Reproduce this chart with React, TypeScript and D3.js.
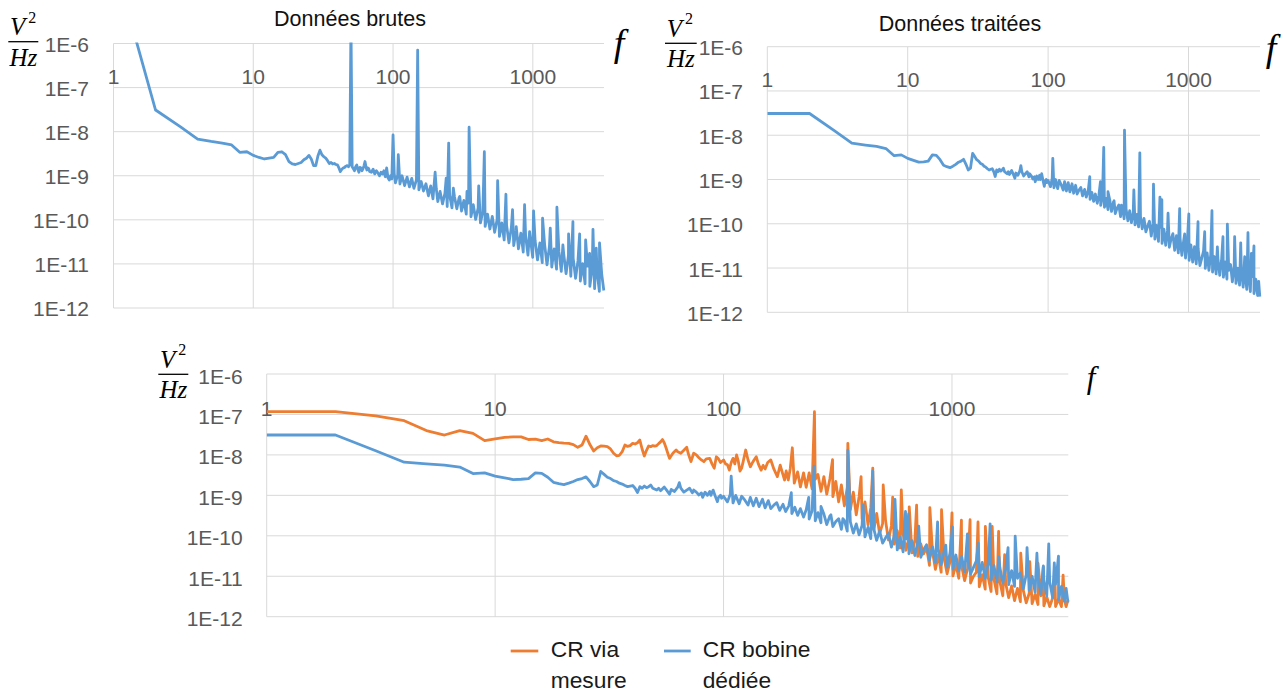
import React from 'react';
import * as d3 from 'd3';

type Pt = [number, number];

const BLUE = '#5b9bd5';
const ORANGE = '#ed7d31';

const yTickValues = [1e-6, 1e-7, 1e-8, 1e-9, 1e-10, 1e-11, 1e-12];
const yTickLabels = ['1E-6', '1E-7', '1E-8', '1E-9', '1E-10', '1E-11', '1E-12'];
const xTickValues = [1, 10, 100, 1000];
const xTickLabels = ['1', '10', '100', '1000'];
const freqDomain: [number, number] = [1, 3230];
const psdDomain: [number, number] = [1e-6, 1e-12];

const titles = ['Données brutes', 'Données traitées'];
const legendLabels = [['CR via', 'mesure'], ['CR bobine', 'dédiée']];

// ---------- Raw data (top-left) ----------
const rawLow: Pt[] = [
  [1, 8e-5], [2, 3.1e-8], [3, 1.3e-8], [4, 6.8e-9], [5, 6.0e-9], [6, 5.5e-9], [7, 5.0e-9], [8, 3.4e-9],
  [9, 3.5e-9], [10, 2.9e-9], [11, 2.6e-9], [12, 2.4e-9], [13, 2.5e-9], [14, 2.6e-9], [15, 3.4e-9],
  [16, 3.5e-9], [17, 3.0e-9], [18, 2.1e-9], [19, 1.85e-9], [20, 1.8e-9], [21, 1.9e-9], [22, 2.0e-9],
  [23, 2.3e-9], [24, 2.5e-9], [25, 2.9e-9], [26, 2.4e-9], [27, 1.7e-9], [28, 1.7e-9], [29, 2.8e-9],
  [30, 3.8e-9], [31, 3.0e-9], [32, 2.7e-9], [33, 2.5e-9], [34, 2.2e-9], [35, 1.9e-9], [36, 2.0e-9],
  [37, 1.85e-9], [38, 1.9e-9], [39, 1.8e-9], [40, 1.76e-9], [41, 1.5e-9], [42, 1.24e-9], [43, 1.4e-9],
  [44, 1.5e-9], [45, 1.55e-9], [46, 1.65e-9], [47, 1.7e-9], [48, 1.6e-9], [49, 1.75e-9], [51, 1.6e-9],
  [52, 1.45e-9], [53, 1.3e-9], [54, 1.6e-9], [55, 1.75e-9], [56, 1.4e-9], [57, 1.2e-9], [58, 1.55e-9],
  [59, 1.5e-9], [60, 1.3e-9], [61, 1.45e-9], [62, 1.7e-9], [63, 2.1e-9], [64, 1.6e-9], [65, 1.35e-9],
  [66, 1.5e-9], [67, 1.45e-9], [68, 1.25e-9], [70, 1.2e-9], [72, 1.4e-9], [74, 1.1e-9], [76, 1.3e-9],
  [78, 1.15e-9], [80, 1.0e-9], [82, 1.2e-9], [84, 1.1e-9], [86, 1.3e-9], [88, 0.95e-9], [90, 1.5e-9],
  [92, 0.9e-9], [94, 0.8e-9], [96, 1.0e-9], [98, 0.85e-9], [102, 1.12e-9],
];
const rawNoise: Pt[] = [
  [104, 6.9e-10], [108, 1.05e-9], [112, 6.5e-10], [116, 1.0e-9], [121, 6.0e-10], [126, 9.3e-10],
  [131, 5.6e-10], [136, 8.7e-10], [141, 5.2e-10], [147, 8.1e-10], [153, 4.8e-10], [159, 7.4e-10],
  [165, 4.5e-10], [172, 6.6e-10], [179, 3.5e-10], [186, 5.9e-10], [193, 3.0e-10], [204, 5.0e-10],
  [209, 2.6e-10], [217, 4.4e-10], [226, 2.3e-10], [235, 4.0e-10], [244, 2.0e-10], [254, 3.6e-10],
  [264, 1.86e-10], [275, 3.4e-10], [286, 1.78e-10], [297, 3.2e-10], [309, 1.58e-10], [321, 2.75e-10],
  [334, 1.35e-10], [347, 2.4e-10], [361, 1.17e-10], [375, 2.2e-10], [390, 1.02e-10], [406, 1.86e-10],
  [422, 8.5e-11], [439, 1.55e-10], [456, 7.1e-11], [474, 1.35e-10], [493, 6.2e-11], [513, 1.2e-10],
  [533, 5.2e-11], [555, 1.0e-10], [577, 4.2e-11], [600, 8.5e-11], [624, 3.5e-11], [649, 7.6e-11],
  [675, 3.0e-11], [702, 6.6e-11], [730, 2.6e-11], [759, 5.75e-11], [789, 2.2e-11], [821, 5.0e-11],
  [854, 1.86e-11], [888, 4.3e-11], [923, 1.58e-11], [960, 3.8e-11], [998, 1.41e-11], [1038, 3.4e-11],
  [1080, 1.23e-11], [1123, 3.0e-11], [1168, 1.07e-11], [1215, 2.75e-11], [1263, 9.5e-12],
  [1314, 2.45e-11], [1366, 8.5e-12], [1421, 2.2e-11], [1478, 7.6e-12], [1537, 1.9e-11], [1598, 6.8e-12],
  [1662, 1.74e-11], [1729, 6.0e-12], [1798, 1.55e-11], [1870, 5.25e-12], [1944, 1.35e-11],
  [2022, 4.7e-12], [2103, 1.17e-11], [2187, 4.1e-12], [2274, 1.02e-11], [2365, 3.55e-12],
  [2460, 8.9e-12], [2558, 3.1e-12], [2661, 7.8e-12], [2767, 2.75e-12], [2878, 6.8e-12], [2993, 2.4e-12],
  [3113, 5.75e-12], [3220, 2.5e-12],
];
const rawPeaks: Pt[] = [
  [50, 3e-6], [100, 8.4e-9], [109, 3.0e-9], [150, 7.1e-7], [200, 1.2e-9], [240, 8.8e-10], [250, 5.5e-9],
  [270, 5.2e-10], [300, 3.4e-10], [338, 4.4e-10], [350, 1.26e-8], [410, 5.9e-10], [450, 3.5e-9],
  [560, 7.7e-10], [642, 3.8e-10], [716, 1.7e-10], [761, 7e-11], [873, 2.2e-10], [948, 5.4e-11],
  [1012, 1.6e-10], [1174, 1.09e-10], [1333, 6.5e-11], [1487, 1.93e-10], [1641, 2.7e-11],
  [1802, 4.8e-11], [1936, 9.1e-11], [2162, 4.8e-11], [2386, 3.5e-11], [2549, 1.74e-11],
  [2694, 6.1e-11], [2843, 2.27e-11], [3000, 3.0e-11],
];

// ---------- CR bobine dédiée (top-right, bottom blue) ----------
const dedLow: Pt[] = [
  [1, 3.1e-8], [2, 3.1e-8], [3, 1.27e-8], [4, 6.6e-9], [5, 6.0e-9], [6, 5.6e-9], [7, 5.0e-9],
  [8, 3.45e-9], [9, 3.6e-9], [10, 3.0e-9], [11, 2.7e-9], [12, 2.46e-9], [13, 2.5e-9], [14, 2.6e-9],
  [15, 3.6e-9], [16, 3.5e-9], [17, 2.8e-9], [18, 2.1e-9], [19, 1.95e-9], [20, 1.85e-9], [21, 2.0e-9],
  [22, 2.2e-9], [23, 2.46e-9], [24, 2.6e-9], [25, 2.86e-9], [26, 2.2e-9], [27, 1.64e-9], [28, 1.8e-9],
  [29, 3.9e-9], [30, 3.3e-9], [31, 2.8e-9], [32, 2.6e-9], [33, 2.3e-9], [34, 2.2e-9], [35, 2.0e-9],
  [36, 1.9e-9], [37, 1.75e-9], [38, 1.64e-9], [39, 1.7e-9], [40, 1.75e-9], [41, 1.5e-9], [42, 1.17e-9],
  [43, 1.64e-9], [44, 1.5e-9], [45, 1.7e-9], [46, 1.55e-9], [47, 1.64e-9], [48, 1.8e-9], [49, 1.5e-9],
  [51, 1.35e-9], [52, 1.5e-9], [53, 1.3e-9], [55, 1.6e-9], [56, 1.4e-9], [58, 1.07e-9], [59, 1.4e-9],
  [61, 1.25e-9], [63, 1.6e-9], [64, 2.06e-9], [65, 1.5e-9], [67, 1.2e-9], [69, 1.35e-9], [71, 1.5e-9],
  [73, 1.15e-9], [74, 1.35e-9], [76, 1.2e-9], [78, 1.02e-9], [80, 1.15e-9], [81, 0.89e-9],
  [83, 1.2e-9], [85, 1.0e-9], [87, 1.25e-9], [88, 1.0e-9], [90, 1.35e-9], [92, 0.95e-9], [94, 0.7e-9],
  [95, 0.89e-9], [97, 1.0e-9], [98, 0.85e-9], [100, 0.95e-9],
];
const dedNoise: Pt[] = [
  [104, 6.9e-10], [107, 1.07e-9], [110, 6.5e-10], [113, 1.0e-9], [117, 6.2e-10], [120, 9.5e-10],
  [124, 7.6e-10], [128, 5.75e-10], [131, 8.9e-10], [135, 5.5e-10], [139, 8.5e-10], [143, 5.25e-10],
  [148, 8.0e-10], [152, 4.9e-10], [157, 7.4e-10], [161, 4.7e-10], [166, 5.75e-10], [171, 6.6e-10],
  [176, 4.25e-10], [182, 6.0e-10], [187, 4.0e-10], [193, 5.5e-10], [199, 3.55e-10], [205, 5.1e-10],
  [211, 3.2e-10], [217, 4.7e-10], [224, 2.9e-10], [230, 4.4e-10], [237, 2.6e-10], [244, 4.1e-10],
  [252, 2.35e-10], [259, 3.75e-10], [267, 2.1e-10], [275, 3.45e-10], [283, 1.9e-10], [292, 3.1e-10],
  [301, 1.7e-10], [310, 2.25e-10], [319, 2.65e-10], [328, 1.45e-10], [338, 2.4e-10], [348, 1.3e-10],
  [359, 2.2e-10], [370, 1.17e-10], [381, 1.97e-10], [392, 1.06e-10], [404, 1.8e-10], [416, 9.4e-11],
  [429, 1.62e-10], [441, 8.5e-11], [455, 1.46e-10], [468, 7.7e-11], [482, 1.32e-10], [497, 6.6e-11],
  [512, 8.9e-11], [527, 1.14e-10], [543, 5.25e-11], [559, 1.02e-10], [576, 4.5e-11], [593, 9.2e-11],
  [611, 4.0e-11], [629, 8.3e-11], [648, 3.6e-11], [668, 7.6e-11], [688, 3.25e-11], [708, 6.9e-11],
  [730, 2.95e-11], [751, 4.5e-11], [774, 6.0e-11], [797, 2.5e-11], [821, 5.4e-11], [846, 2.2e-11],
  [871, 4.7e-11], [897, 1.93e-11], [924, 4.2e-11], [952, 1.68e-11], [980, 3.7e-11], [1010, 1.5e-11],
  [1040, 3.35e-11], [1071, 1.36e-11], [1103, 3.05e-11], [1136, 1.25e-11], [1171, 2.8e-11],
  [1206, 1.14e-11], [1242, 1.66e-11], [1279, 2.4e-11], [1317, 9.8e-12], [1357, 2.2e-11],
  [1398, 8.9e-12], [1440, 2.0e-11], [1483, 8.1e-12], [1527, 1.82e-11], [1573, 7.4e-12],
  [1620, 1.66e-11], [1669, 6.8e-12], [1719, 1.5e-11], [1771, 6.2e-12], [1824, 1.38e-11],
  [1879, 5.6e-12], [1935, 8.9e-12], [1993, 1.2e-11], [2053, 4.9e-12], [2114, 1.1e-11], [2178, 4.5e-12],
  [2243, 1.0e-11], [2310, 4.1e-12], [2380, 9.0e-12], [2451, 3.7e-12], [2525, 8.1e-12], [2600, 3.3e-12],
  [2678, 7.2e-12], [2759, 2.95e-12], [2841, 6.4e-12], [2927, 2.65e-12], [3014, 5.6e-12],
  [3105, 2.4e-12], [3160, 5.0e-12], [3220, 2.25e-12],
];
const dedPeaks: Pt[] = [
  [108, 3.0e-9], [198, 1.16e-9], [236, 8.9e-10], [249, 5.3e-9], [267, 5.3e-10], [295, 3.3e-10],
  [333, 2.65e-10], [350, 1.3e-8], [408, 5.8e-10], [450, 4.0e-9], [563, 7.9e-10], [626, 4.0e-10],
  [646, 3.5e-10], [715, 1.73e-10], [865, 2.2e-10], [939, 5.9e-11], [1005, 1.66e-10], [1169, 1.11e-10],
  [1304, 6.6e-11], [1469, 1.97e-10], [1605, 3.0e-11], [1760, 5.1e-11], [1891, 9.8e-11],
  [2131, 5.1e-11], [2354, 3.7e-11], [2513, 1.8e-11], [2652, 6.3e-11], [2805, 2.15e-11],
  [2926, 3.16e-11],
];

// ---------- CR via mesure (bottom orange) ----------
const mesLow: Pt[] = [
  [1, 1.17e-7], [2, 1.17e-7], [3, 9.2e-8], [4, 7.0e-8], [5, 4.0e-8], [6, 3.1e-8], [7, 4.0e-8],
  [8, 3.4e-8], [9, 2.25e-8], [10, 2.5e-8], [11, 2.7e-8], [12, 2.8e-8], [13, 2.8e-8], [14, 2.4e-8],
  [15, 2.45e-8], [16, 2.25e-8], [17, 2.47e-8], [18, 2.1e-8], [19, 2.0e-8], [20, 1.95e-8], [21, 1.93e-8],
  [22, 1.8e-8], [23, 1.54e-8], [24, 1.75e-8], [25, 2.9e-8], [26, 1.8e-8], [27, 1.25e-8], [28, 1.5e-8],
  [29, 1.66e-8], [30, 1.65e-8], [31, 1.6e-8], [32, 1.4e-8], [33, 1.1e-8], [34, 9.5e-9], [35, 9.8e-9],
  [36, 1.2e-8], [37, 1.76e-8], [38, 1.62e-8], [39, 1.7e-8], [40, 1.93e-8], [41, 1.86e-8], [42, 2.0e-8],
  [43, 2.33e-8], [44, 1.4e-8], [45, 9.4e-9], [46, 1.3e-8], [47, 1.66e-8], [48, 1.6e-8], [49, 1.7e-8],
  [50, 1.65e-8], [51, 1.7e-8], [52, 1.9e-8], [53, 2.1e-8], [54, 2.4e-8], [55, 2.0e-8], [56, 1.5e-8],
  [57, 1.1e-8], [58, 8.2e-9], [59, 9.5e-9], [60, 1.1e-8], [62, 1.32e-8], [63, 1.2e-8], [65, 1.1e-8],
  [67, 1.3e-8], [69, 1.54e-8], [70, 1.1e-8], [72, 6.8e-9], [74, 1.1e-8], [76, 1.0e-8], [78, 8.5e-9],
  [80, 7.5e-9], [82, 6.8e-9], [84, 8.0e-9], [87, 8.2e-9], [89, 6.0e-9], [91, 4.7e-9], [93, 9.0e-9],
  [95, 8.0e-9], [97, 6.5e-9], [100, 7.5e-9], [102, 6.0e-9], [104, 5.7e-9], [106, 4.2e-9], [108, 6.5e-9],
  [110, 8.2e-9], [112, 6.0e-9], [114, 1.0e-8], [116, 7.0e-9], [118, 4.0e-9], [120, 4.7e-9],
  [122, 7.0e-9], [125, 1.32e-8], [128, 7.5e-9], [131, 5.1e-9], [134, 6.5e-9], [136, 7.5e-9],
  [139, 9.0e-9], [142, 6.0e-9], [146, 4.2e-9], [149, 5.5e-9], [152, 4.5e-9], [156, 6.5e-9],
  [161, 7.5e-9], [166, 4.5e-9], [172, 2.9e-9], [177, 5.6e-9], [181, 3.6e-9], [185, 2.4e-9],
  [188, 4.0e-9], [192, 2.4e-9], [196, 4.7e-9], [204, 2.0e-9],
];
const mesNoise: Pt[] = [
  [211, 3.8e-9], [217, 1.62e-9], [224, 3.6e-9], [230, 1.58e-9], [237, 3.6e-9], [244, 1.45e-9],
  [252, 2.5e-9], [259, 3.3e-9], [267, 1.26e-9], [275, 2.9e-9], [283, 1.07e-9], [292, 2.55e-9],
  [301, 9.3e-10], [310, 2.2e-9], [319, 6.9e-10], [328, 1.82e-9], [338, 5.5e-10], [348, 1.58e-9],
  [359, 4.4e-10], [370, 1.2e-9], [381, 3.3e-10], [392, 9.3e-10], [404, 2.6e-10], [416, 6.9e-10],
  [429, 1.86e-10], [441, 4.9e-10], [455, 1.41e-10], [468, 3.6e-10], [482, 1.12e-10], [497, 2.0e-10],
  [512, 2.35e-10], [527, 7.9e-11], [543, 1.78e-10], [559, 6.2e-11], [576, 1.35e-10], [593, 5.0e-11],
  [611, 1.12e-10], [629, 4.4e-11], [648, 8.9e-11], [668, 3.8e-11], [688, 7.6e-11], [708, 3.1e-11],
  [730, 6.3e-11], [751, 3.55e-11], [774, 5.1e-11], [797, 1.86e-11], [821, 4.2e-11], [846, 1.48e-11],
  [871, 3.4e-11], [897, 1.26e-11], [924, 2.75e-11], [952, 1.15e-11], [980, 2.3e-11], [1010, 1.02e-11],
  [1040, 2.0e-11], [1071, 8.9e-12], [1103, 1.74e-11], [1136, 7.8e-12], [1171, 1.58e-11],
  [1206, 6.8e-12], [1242, 1.0e-11], [1279, 1.26e-11], [1317, 5.5e-12], [1357, 1.1e-11],
  [1398, 4.8e-12], [1440, 9.5e-12], [1483, 4.2e-12], [1527, 8.5e-12], [1573, 3.7e-12],
  [1620, 7.4e-12], [1669, 3.3e-12], [1719, 6.6e-12], [1771, 2.95e-12], [1824, 5.75e-12],
  [1879, 2.5e-12], [1935, 5.0e-12], [1993, 2.35e-12], [2053, 4.4e-12], [2114, 2.2e-12],
  [2178, 3.8e-12], [2243, 2.1e-12], [2310, 3.55e-12], [2380, 2.0e-12], [2451, 3.3e-12],
  [2525, 1.86e-12], [2600, 3.1e-12], [2678, 1.78e-12], [2759, 2.9e-12], [2841, 1.78e-12],
  [2927, 2.75e-12], [3014, 1.78e-12], [3105, 2.6e-12], [3160, 1.78e-12], [3220, 2.6e-12],
];
const mesPeaks: Pt[] = [
  [200, 1.5e-8], [250, 1.17e-7], [300, 7.6e-9], [350, 1.93e-8], [400, 2.9e-9], [450, 4.7e-9],
  [500, 1.8e-9], [550, 9e-10], [600, 1.36e-9], [650, 5.2e-10], [700, 5.7e-10], [800, 5.0e-10],
  [900, 4.4e-10], [1000, 3.7e-10], [1100, 2.45e-10], [1200, 2.5e-10], [1300, 2.2e-10],
  [1400, 1.7e-10], [1500, 1.7e-10], [1600, 1.28e-10], [1700, 3.4e-11], [2000, 3.7e-11],
  [2190, 2.3e-11], [2380, 2.1e-11], [2510, 1.7e-11], [2820, 1.3e-11], [3065, 1.07e-11],
];

const merge = (...parts: Pt[][]): Pt[] => parts.flat().sort((a, b) => a[0] - b[0]);

const rawSeries = merge(rawLow, rawNoise, rawPeaks);
const dedSeries = merge(dedLow, dedNoise, dedPeaks);
const mesSeries = merge(mesLow, mesNoise, mesPeaks);

type Box = { l: number; r: number; t: number; b: number };
type ChartProps = {
  id: string;
  box: Box;
  series: { data: Pt[]; color: string }[];
  yLabRight: number;
  yLabDy: number;
  xLabDy: number;
  frac: { x0: number; x1: number; y: number };
  f: { x: number; y: number; size: number };
  title?: { text: string; x: number; y: number };
};

const TICK_FONT = '"Liberation Sans", Arial, sans-serif';
const MATH_FONT = '"Liberation Serif", "Times New Roman", serif';

function Chart({ id, box, series, yLabRight, yLabDy, xLabDy, frac, f, title }: ChartProps) {
  const x = d3.scaleLog().domain(freqDomain).range([box.l, box.r]);
  const y = d3.scaleLog().domain(psdDomain).range([box.t, box.b]);
  const line = d3
    .line<Pt>()
    .x((d) => x(d[0]))
    .y((d) => y(d[1]));
  const cx = (frac.x0 + frac.x1) / 2;
  return (
    <g>
      <defs>
        <clipPath id={`clip-${id}`}>
          <rect x={box.l} y={box.t - 1} width={box.r - box.l + 2} height={box.b - box.t + 2} />
        </clipPath>
      </defs>
      {title && (
        <text x={title.x} y={title.y} textAnchor="middle" fontFamily={TICK_FONT} fontSize={21.5} fill="#111">
          {title.text}
        </text>
      )}
      {yTickValues.map((v) => (
        <line key={`gy${v}`} x1={box.l} x2={box.r} y1={y(v)} y2={y(v)} stroke="#d9d9d9" strokeWidth={1} />
      ))}
      {xTickValues.map((v) => (
        <line key={`gx${v}`} x1={x(v)} x2={x(v)} y1={box.t} y2={box.b} stroke="#d9d9d9" strokeWidth={1} />
      ))}
      {yTickValues.map((v, i) => (
        <text key={`ly${v}`} x={yLabRight} y={y(v) + yLabDy} textAnchor="end" fontFamily={TICK_FONT} fontSize={21} fill="#595959">
          {yTickLabels[i]}
        </text>
      ))}
      {xTickValues.map((v, i) => (
        <text key={`lx${v}`} x={x(v)} y={box.t + xLabDy} textAnchor="middle" fontFamily={TICK_FONT} fontSize={21} fill="#595959">
          {xTickLabels[i]}
        </text>
      ))}
      <g clipPath={`url(#clip-${id})`}>
        {series.map((s, i) => (
          <path key={i} d={line(s.data) || ''} fill="none" stroke={s.color} strokeWidth={2.8} strokeLinejoin="round" />
        ))}
      </g>
      {/* y-axis unit V^2/Hz */}
      <text x={frac.x0 + 1.7} y={frac.y - 6.5} fontFamily={MATH_FONT} fontStyle="italic" fontSize={25} fill="#000">
        V
      </text>
      <text x={frac.x0 + 20} y={frac.y - 19} fontFamily={MATH_FONT} fontSize={16} fill="#000">
        2
      </text>
      <line x1={frac.x0} x2={frac.x1} y1={frac.y} y2={frac.y} stroke="#000" strokeWidth={1.3} />
      <text x={cx} y={frac.y + 24} textAnchor="middle" fontFamily={MATH_FONT} fontStyle="italic" fontSize={25} fill="#000">
        Hz
      </text>
      <text x={f.x} y={f.y} textAnchor="middle" fontFamily={MATH_FONT} fontStyle="italic" fontSize={f.size} fill="#000">
        f
      </text>
    </g>
  );
}

export default function App() {
  return (
    <svg
      width={1287}
      height={695}
      viewBox="0 0 1287 695"
      style={{ position: 'absolute', left: 0, top: 0, background: '#fff' }}
    >
      <rect x={0} y={0} width={1287} height={695} fill="#fff" />
      <Chart
        id="raw"
        box={{ l: 113.5, r: 604, t: 43.5, b: 308 }}
        series={[{ data: rawSeries, color: BLUE }]}
        yLabRight={89}
        yLabDy={8}
        xLabDy={40}
        frac={{ x0: 8.3, x1: 38.3, y: 41.7 }}
        f={{ x: 619, y: 56, size: 38 }}
        title={{ text: titles[0], x: 350, y: 26 }}
      />
      <Chart
        id="ded"
        box={{ l: 767.3, r: 1260, t: 46.7, b: 312.3 }}
        series={[{ data: dedSeries, color: BLUE }]}
        yLabRight={743}
        yLabDy={8.5}
        xLabDy={40.5}
        frac={{ x0: 665, x1: 696.7, y: 43.3 }}
        f={{ x: 1271, y: 61, size: 38 }}
        title={{ text: titles[1], x: 960, y: 31 }}
      />
      <Chart
        id="both"
        box={{ l: 266.7, r: 1068.3, t: 374, b: 616.7 }}
        series={[
          { data: mesSeries, color: ORANGE },
          { data: dedSeries, color: BLUE },
        ]}
        yLabRight={242.7}
        yLabDy={9.5}
        xLabDy={42}
        frac={{ x0: 158.3, x1: 188.3, y: 374.3 }}
        f={{ x: 1091, y: 387.5, size: 31 }}
      />
      {/* legend */}
      <g fontFamily={TICK_FONT} fontSize={22.8} fill="#1a1a1a">
        <line x1={510.7} x2={538.3} y1={651} y2={651} stroke={ORANGE} strokeWidth={2.8} />
        <text x={550.7} y={657.3}>{legendLabels[0][0]}</text>
        <text x={550.7} y={688.3}>{legendLabels[0][1]}</text>
        <line x1={664} x2={690.7} y1={651} y2={651} stroke={BLUE} strokeWidth={2.8} />
        <text x={702.7} y={657.3}>{legendLabels[1][0]}</text>
        <text x={702.7} y={688.3}>{legendLabels[1][1]}</text>
      </g>
    </svg>
  );
}
